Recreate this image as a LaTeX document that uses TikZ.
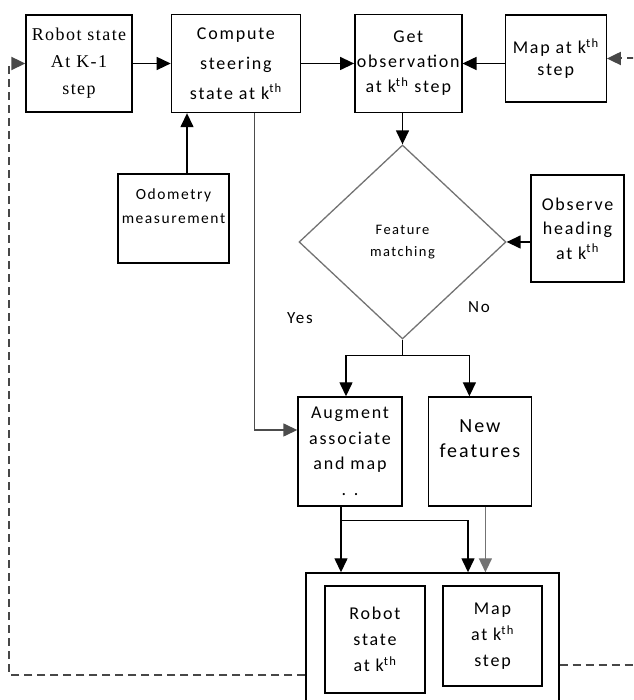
\documentclass[tikz,border=0pt]{standalone}
\usepackage{fontspec}
\setmainfont{Carlito}[LetterSpace=10]
\newfontfamily\serifbox{Liberation Serif}[LetterSpace=8]
\usetikzlibrary{shapes.geometric,arrows.meta,positioning}

\begin{document}
\begin{tikzpicture}[
    x=1pt, y=1pt,
    every node/.style={font=\fontsize{18}{26}\selectfont},
    block/.style={rectangle, draw=black, line width=1.4pt, align=center, inner sep=0pt},
    decision/.style={diamond, draw=black!55, line width=1.3pt, align=center, inner sep=0pt},
    line/.style={line width=1.4pt, color=black},
    arrow/.style={-{Triangle[length=14pt,width=13pt]}, line width=1.4pt, color=black},
    feedback/.style={-{Triangle[length=14pt,width=13pt]}, line width=2pt, color=black!72, dash pattern=on 8pt off 5pt}
]
\useasboundingbox (0,0) rectangle (633,700);
\clip (0,0) rectangle (633,700);

% Top row
\node[block, minimum width=106, minimum height=97, font=\serifbox\fontsize{18}{27}\selectfont] (robotk) at (79,636.5) {Robot state\\At K-1\\step};
\node[block, right=38pt of robotk, minimum width=129, minimum height=98, font=\fontsize{18}{30}\selectfont] (compute) {Compute\\steering\\state at k\textsuperscript{th}};
\node[block, right=53pt of compute, minimum width=107, minimum height=98, font=\fontsize{18}{25}\selectfont] (getobs) {Get\\observation\\at k\textsuperscript{th} step};
\node[block, right=42pt of getobs, yshift=5pt, minimum width=101, minimum height=87, font=\fontsize{18}{22}\selectfont] (mapk) {Map at k\textsuperscript{th}\\step};

% Middle
\node[block, minimum width=111, minimum height=89, font=\fontsize{15.5}{24}\selectfont] (odometry) at (173.5,481.5) {Odometry\\measurement\\~};
\node[decision, minimum width=207, minimum height=194, font=\fontsize{14.5}{22}\selectfont] (fmatch) at (402.5,458) {Feature\\matching};
\node[block, minimum width=93, minimum height=107, font=\fontsize{18}{24.5}\selectfont] (observe) at (577.5,471.5) {Observe\\heading\\at k\textsuperscript{th}};
\node[font=\fontsize{17}{20}\selectfont] (yes) at (300,382) {Yes};
\node[font=\fontsize{17}{20}\selectfont] (no) at (479,393) {No};

% Lower
\node[block, minimum width=104, minimum height=109, font=\fontsize{18}{25.5}\selectfont] (augment) at (350,248.5) {Augment\\associate\\and map\\. .};
\node[block, right=25pt of augment, minimum width=103, minimum height=109, font=\fontsize{20}{25}\selectfont] (newfeat) {New\\features\\~};

% Result
\node[block, minimum width=253, minimum height=129] (outer) at (432.5,62.5) {};
\node[block, minimum width=100, minimum height=107] (robotkk) at (375,60.5) {Robot\\state\\at k\textsuperscript{th}};
\node[block, minimum width=99, minimum height=100] (mapkk) at (492.5,64) {Map\\at k\textsuperscript{th}\\step};

% Top row connections
\draw[arrow] (robotk) -- (compute);
\draw[arrow] (compute) -- (getobs);
\draw[arrow] (mapk.west |- getobs) -- (getobs);
\draw[arrow] ([xshift=13.5pt]odometry.north) -- ([xshift=13.5pt]odometry.north |- compute.south);
\draw[arrow, color=black!70] ([xshift=18.5pt]compute.south) |- ([yshift=21.5pt]augment.west);

% Matching
\draw[arrow] (getobs.south -| fmatch.north) -- (fmatch.north);
\draw[arrow] (observe.west |- fmatch.east) -- (fmatch.east);
\draw[line] (fmatch.south) -- ++(0,-16) coordinate (split);
\draw[arrow] (split) -| ([xshift=-4pt]augment.north);
\draw[arrow] (split) -| ([xshift=-10.5pt]newfeat.north);

% To result
\draw[arrow] ([xshift=-9pt]augment.south) -- ([xshift=-9pt]augment.south |- outer.north);
\draw[arrow] ([xshift=-9pt,yshift=-14pt]augment.south) -| ([xshift=35.5pt]outer.north);
\draw[arrow, color=black!55] ([xshift=5.5pt]newfeat.south) -- ([xshift=5.5pt]newfeat.south |- outer.north);

% Feedback
\draw[feedback] ([yshift=-37.5pt]outer.west) -| ([xshift=-16pt]robotk.west) -- (robotk.west);
\draw[feedback] ([yshift=-27.5pt]outer.east) -| ([xshift=38pt]mapk.east) -- (mapk.east);

\end{tikzpicture}
\end{document}
